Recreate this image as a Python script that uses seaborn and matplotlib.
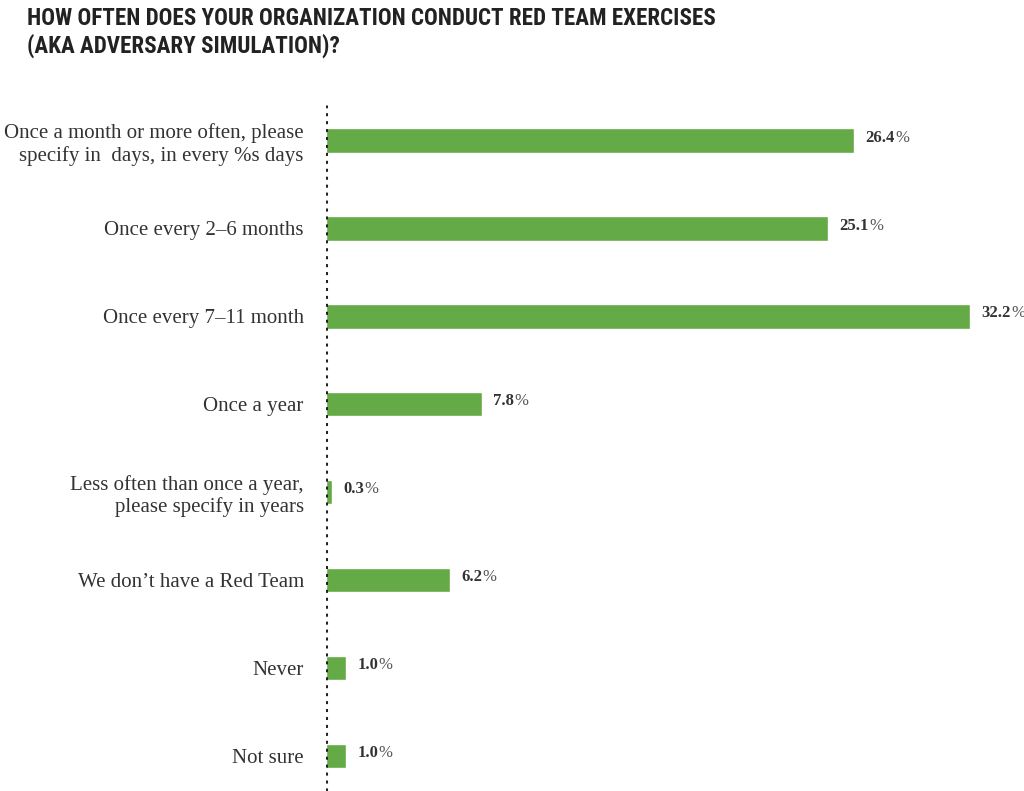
import matplotlib
matplotlib.use("Agg")
import matplotlib.pyplot as plt
import seaborn as sns
import pandas as pd

categories = [
    "Once a month or more often, please\nspecify in  days, in every %s days",
    "Once every 2\u20136 months",
    "Once every 7\u201311 month",
    "Once a year",
    "Less often than once a year,\nplease specify in years",
    "We don\u2019t have a Red Team",
    "Never",
    "Not sure",
]
values = [26.4, 25.1, 32.2, 7.8, 0.3, 6.2, 1.0, 1.0]
value_labels = ["26.4", "25.1", "32.2", "7.8", "0.3", "6.2", "1.0", "1.0"]
title = "HOW OFTEN DOES YOUR ORGANIZATION CONDUCT RED TEAM EXERCISES\n(AKA ADVERSARY SIMULATION)?"

df = pd.DataFrame({"category": categories, "value": values})

sns.set_theme(style="white")
plt.rcParams["font.family"] = ["Liberation Serif", "DejaVu Serif"]

fig = plt.figure(figsize=(10.24, 7.91), dpi=100)
ax = fig.add_axes([0.3184, 0.0, 0.6816, 0.867])

sns.barplot(data=df, x="value", y="category", orient="h", color="#64AA46",
            saturation=1, width=0.28, ax=ax)

ax.set_xlim(0, 34.9)
ax.set_ylim(7.4, -0.4)
for s in ["top", "right", "bottom", "left"]:
    ax.spines[s].set_visible(False)
ax.axvline(0, color="#222222", linestyle=(0, (1, 1.6)), linewidth=2.2, zorder=5)
ax.set_xticks([])
ax.set_xlabel("")
ax.set_ylabel("")
ax.tick_params(axis="y", length=0, pad=16, labelsize=15, labelcolor="#333333")
for t in ax.get_yticklabels():
    t.set_horizontalalignment("right")
    t.set_multialignment("right")

for i, (v, lab) in enumerate(zip(values, value_labels)):
    t = ax.annotate(lab, xy=(v, i), xytext=(8, 2), textcoords="offset points",
                    ha="left", va="center", fontsize=12, fontweight="bold",
                    color="#333333")
    ax.annotate("%", xy=(1, 0), xycoords=t, xytext=(0.5, 0), textcoords="offset points",
                ha="left", va="bottom", fontsize=12, color="#555555")

fig.text(0.026, 0.991, title, ha="left", va="top", fontsize=16.6,
         fontweight="bold", color="#222222", linespacing=1.18,
         family=["Roboto Condensed", "DejaVu Sans Condensed", "Liberation Sans"])

fig.savefig("out.png", dpi=100)
